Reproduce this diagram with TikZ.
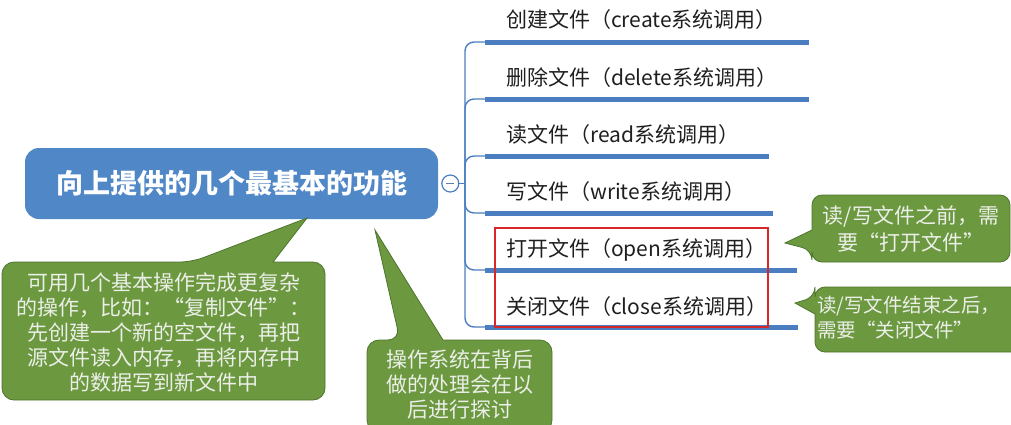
\documentclass[tikz,border=0pt]{standalone}
\usepackage{fontspec}
\setmainfont{Noto Sans CJK SC}
\usetikzlibrary{positioning}

\definecolor{mapblue}{RGB}{80,135,199}
\definecolor{linkblue}{RGB}{74,126,192}
\definecolor{notegreen}{RGB}{108,153,64}
\definecolor{noteedge}{RGB}{78,116,45}
\definecolor{notewhite}{RGB}{236,238,232}
\definecolor{markred}{RGB}{217,38,43}

\tikzset{
  topic/.style={fill=mapblue, rounded corners=14pt, text=white, inner sep=0pt,
    font=\fontsize{27}{32}\selectfont\bfseries},
  foldbtn/.style={circle, draw=linkblue, fill=white, line width=1.2pt,
    minimum size=17pt, inner sep=0pt},
  sub/.style={anchor=west, inner sep=0pt, text=black!88,
    font=\fontsize{21}{25}\selectfont},
  bar/.style={linkblue, line width=5pt},
  branch/.style={linkblue, line width=1.4pt, rounded corners=9pt},
  note/.style={fill=notegreen, draw=noteedge, line width=0.8pt},
  notetext/.style={text=notewhite, inner sep=0pt,
    font=\fontsize{21}{25}\selectfont},
}

\begin{document}
\begin{tikzpicture}[x=1pt, y=-1pt]
\useasboundingbox (0,0) rectangle (1011,424);

% Central topic
\node[topic, minimum width=413pt, minimum height=71pt] (main) at (231.5,183.5)
  {向上提供的几个最基本的功能};

% Fold button and hub of the tree
\node[foldbtn, right=3pt of main] (fold) {};
\draw[linkblue!60!gray, line width=1.3pt] ([xshift=-4pt]fold.center) -- ([xshift=4pt]fold.center);
\coordinate (hub) at (465,183.5);

% Start points of the branch bars
\coordinate (u1) at (485,42);
\coordinate (u2) at (485,99);
\coordinate (u3) at (485,156);
\coordinate (u4) at (485,213);
\coordinate (u5) at (485,270);
\coordinate (u6) at (485,327);

% Tree lines
\draw[branch] (fold) -- (hub);
\draw[branch] (u1) -| (hub) |- (u6);
\draw[branch] (u2) -| (hub);
\draw[branch] (u3) -| (hub);
\draw[branch] (u4) -| (hub);
\draw[branch] (u5) -| (hub);

% Bars
\draw[bar] (u1) -- ++(324,0);
\draw[bar] (u2) -- ++(324,0);
\draw[bar] (u3) -- ++(284,0);
\draw[bar] (u4) -- ++(288,0);
\draw[bar] (u5) -- ++(312,0);
\draw[bar] (u6) -- ++(313,0);

% Branch labels
\node[sub] (b1) at (506,20) {创建文件（create系统调用）};
\node[sub] (b2) at (506,78) {删除文件（delete系统调用）};
\node[sub] (b3) at (506,135) {读文件（read系统调用）};
\node[sub] (b4) at (506,192) {写文件（write系统调用）};
\node[sub] (b5) at (506,250) {打开文件（open系统调用）};
\node[sub] (b6) at (506,307) {关闭文件（close系统调用）};

% Red frame round open/close
\draw[markred, line width=2pt] (495,228) rectangle (768,327);

% Callout: open
\draw[note] (812,230) [rounded corners=10pt] -- (812,195) -- (1010,195) -- (1010,262)
  -- (812,262) -- (812,250) [sharp corners] -- (785,243) -- cycle;
\node[notetext, align=center] (n1) at (911,229) {读/写文件之前，需\\[2pt]要“打开文件”};

% Callout: close
\draw[note] (815,314) [rounded corners=10pt] -- (815,352) -- (1025,352) -- (1025,287)
  -- (815,287) -- (815,297) [sharp corners] -- (795,303) -- cycle;
\node[notetext, align=left, anchor=west, font=\fontsize{19.5}{25}\selectfont] (n2) at (817,318)
  {读/写文件结束之后，\\需要“关闭文件”};

% Callout: combined operations
\draw[note] (273,262) [rounded corners=12pt] -- (325,262) -- (325,400) -- (2,400)
  -- (2,262) -- (192,262) [sharp corners] -- (307,218) -- cycle;
\node[notetext, align=center] (n3) at (163.5,332)
  {可用几个基本操作完成更复杂\\的操作，比如：“复制文件”：\\先创建一个新的空文件，再把\\源文件读入内存，再将内存中\\的数据写到新文件中};

% Callout: handled by the OS
\draw[note] (443,340) [rounded corners=12pt] -- (552,340) -- (552,432) -- (367,432)
  -- (367,340) -- (400,340) [sharp corners] -- (375,230) -- cycle;
\node[notetext, align=center] (n4) at (459.5,384)
  {操作系统在背后\\做的处理会在以\\后进行探讨};

\end{tikzpicture}
\end{document}
